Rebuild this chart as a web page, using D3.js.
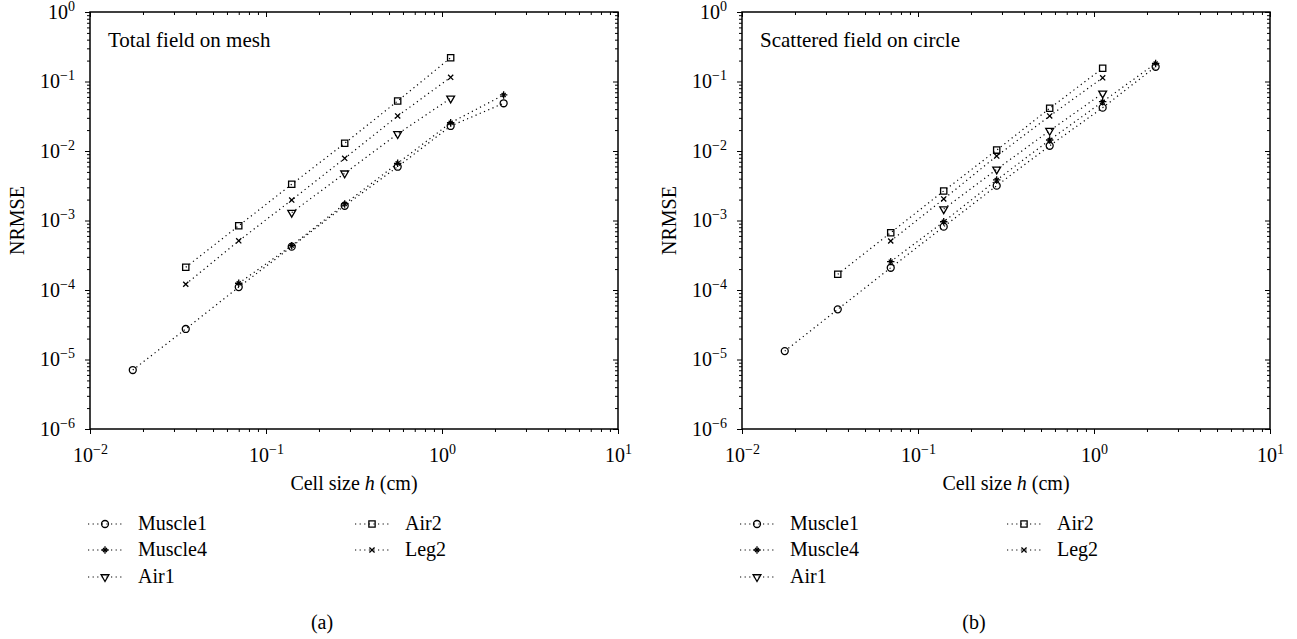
<!DOCTYPE html>
<html>
<head>
<meta charset="utf-8">
<script src="https://cdn.jsdelivr.net/npm/d3@7"></script>
<style>
  body { margin: 0; background: #fff; }
  svg { display: block; font-family: 'Liberation Serif', 'Times New Roman', serif; }
</style>
</head>
<body>
<svg id="chart" width="1297" height="639"></svg>
<script>
// cell sizes h (cm)
const hValues = [0.0175, 0.035, 0.07, 0.14, 0.28, 0.56, 1.12, 2.24];

// (a) total field on mesh
const muscle1A = [7.06e-6, 2.75e-5, 1.1e-4, 4.2e-4, 1.63e-3, 5.94e-3, 2.29e-2, 4.86e-2];
const muscle4A = [null, null, 1.25e-4, 4.35e-4, 1.73e-3, 6.65e-3, 2.55e-2, 6.4e-2];
const air1A = [null, null, null, 1.3e-3, 4.78e-3, 1.76e-2, 5.73e-2, null];
const air2A = [null, 2.12e-4, 8.4e-4, 3.32e-3, 1.29e-2, 5.24e-2, 0.22, null];
const leg2A = [null, 1.21e-4, 5.1e-4, 1.97e-3, 7.85e-3, 3.19e-2, 0.115, null];

// (b) scattered field on circle
const muscle1B = [1.32e-5, 5.27e-5, 2.09e-4, 8.15e-4, 3.17e-3, 1.19e-2, 4.2e-2, 0.163];
const muscle4B = [null, null, 2.56e-4, 9.6e-4, 3.83e-3, 1.44e-2, 5.12e-2, 0.182];
const air1B = [null, null, null, 1.46e-3, 5.45e-3, 1.96e-2, 6.76e-2, null];
const air2B = [null, 1.68e-4, 6.68e-4, 2.66e-3, 1.03e-2, 4.11e-2, 0.155, null];
const leg2B = [null, null, 5.07e-4, 2.04e-3, 8.47e-3, 3.19e-2, 0.113, null];

const seriesNames = ['Muscle1', 'Muscle4', 'Air1', 'Air2', 'Leg2'];
const xDecades = [1e-2, 1e-1, 1e0, 1e1];
const yDecades = [1e-6, 1e-5, 1e-4, 1e-3, 1e-2, 1e-1, 1e0];

const panels = [
  { left: 90, title: 'Total field on mesh', tag: '(a)', series: [muscle1A, muscle4A, air1A, air2A, leg2A] },
  { left: 742, title: 'Scattered field on circle', tag: '(b)', series: [muscle1B, muscle4B, air1B, air2B, leg2B] },
];

const plotW = 528;
const plotTop = 12;
const plotBottom = 429;

// each marker may be several stroked d3 symbols drawn on top of each other
const symbols = {
  Muscle1: [{ type: d3.symbolCircle, size: 38, rot: 0 }],
  Muscle4: [{ type: d3.symbolPlus, size: 20, rot: 0 }, { type: d3.symbolTimes, size: 12, rot: 0 }],
  Air1: [{ type: d3.symbolTriangle2, size: 44, rot: 180 }],
  Air2: [{ type: d3.symbolSquare2, size: 50, rot: 0 }],
  Leg2: [{ type: d3.symbolTimes, size: 19, rot: 0 }],
};

const svg = d3.select('#chart');

function minorTicks(decades) {
  const out = [];
  decades.slice(0, -1).forEach((d) => {
    for (let k = 2; k <= 9; k += 1) out.push(d * k);
  });
  return out;
}

function supLabel(sel) {
  sel.each(function (d) {
    const t = d3.select(this).text(null);
    t.append('tspan').text('10');
    t.append('tspan').attr('dy', -8).attr('font-size', 14)
      .text(String(Math.round(Math.log10(d))).replace('-', '\u2212'));
  });
}

function marker(g, name, x, y) {
  symbols[name].forEach((s) => {
    g.append('path')
      .attr('d', d3.symbol().type(s.type).size(s.size)())
      .attr('transform', `translate(${x},${y}) rotate(${s.rot})`)
      .attr('fill', 'none')
      .attr('stroke', '#000')
      .attr('stroke-width', 1.3);
  });
}

panels.forEach((p) => {
  const x = d3.scaleLog().domain([1e-2, 1e1]).range([p.left, p.left + plotW]);
  const y = d3.scaleLog().domain([1e-6, 1e0]).range([plotBottom, plotTop]);
  const g = svg.append('g');

  // minor ticks (bottom/left outward, top/right inward)
  g.append('g').attr('transform', `translate(0,${plotBottom})`)
    .call(d3.axisBottom(x).tickValues(minorTicks(xDecades)).tickSize(3).tickSizeOuter(0).tickFormat(''));
  g.append('g').attr('transform', `translate(0,${plotTop})`)
    .call(d3.axisBottom(x).tickValues(minorTicks(xDecades)).tickSize(3).tickSizeOuter(0).tickFormat(''));
  g.append('g').attr('transform', `translate(${p.left},0)`)
    .call(d3.axisLeft(y).tickValues(minorTicks(yDecades)).tickSize(3).tickSizeOuter(0).tickFormat(''));
  g.append('g').attr('transform', `translate(${p.left + plotW},0)`)
    .call(d3.axisLeft(y).tickValues(minorTicks(yDecades)).tickSize(3).tickSizeOuter(0).tickFormat(''));

  // major ticks + labels
  const xAxis = g.append('g').attr('transform', `translate(0,${plotBottom})`)
    .call(d3.axisBottom(x).tickValues(xDecades).tickSize(5).tickSizeOuter(0));
  xAxis.selectAll('.tick text').attr('y', 33).attr('dy', 0).attr('font-size', 20).call(supLabel);
  g.append('g').attr('transform', `translate(0,${plotTop})`)
    .call(d3.axisBottom(x).tickValues(xDecades).tickSize(5).tickSizeOuter(0).tickFormat(''));
  const yAxis = g.append('g').attr('transform', `translate(${p.left},0)`)
    .call(d3.axisLeft(y).tickValues(yDecades).tickSize(5).tickSizeOuter(0));
  yAxis.selectAll('.tick text').attr('x', -15).attr('dy', 6).attr('font-size', 20).call(supLabel);
  g.append('g').attr('transform', `translate(${p.left + plotW},0)`)
    .call(d3.axisLeft(y).tickValues(yDecades).tickSize(5).tickSizeOuter(0).tickFormat(''));

  g.selectAll('.domain').remove();
  g.selectAll('.tick line').attr('stroke', '#000');
  g.selectAll('g').attr('font-family', null).attr('font-size', null);

  g.append('rect')
    .attr('x', p.left).attr('y', plotTop)
    .attr('width', plotW).attr('height', plotBottom - plotTop)
    .attr('fill', 'none').attr('stroke', '#000').attr('stroke-width', 1.5);

  // title
  g.append('text').attr('x', p.left + 18).attr('y', 47)
    .attr('font-size', 21).text(p.title);

  // axis labels
  const xl = g.append('text').attr('x', p.left + plotW / 2).attr('y', 490)
    .attr('text-anchor', 'middle').attr('font-size', 20);
  xl.append('tspan').text('Cell size ');
  xl.append('tspan').attr('font-style', 'italic').text('h');
  xl.append('tspan').text(' (cm)');

  g.append('text')
    .attr('transform', `translate(${p.left - 66},${(plotTop + plotBottom) / 2}) rotate(-90)`)
    .attr('text-anchor', 'middle').attr('font-size', 20).text('NRMSE');

  // series
  const line = d3.line()
    .x((d) => x(d.h))
    .y((d) => y(d.v));

  p.series.forEach((vals, i) => {
    const pts = hValues.map((h, j) => ({ h, v: vals[j] })).filter((d) => d.v !== null);
    g.append('path')
      .attr('d', line(pts))
      .attr('fill', 'none')
      .attr('stroke', '#000')
      .attr('stroke-width', 1.2)
      .attr('stroke-dasharray', '1.2 3.4');
    pts.forEach((d) => marker(g, seriesNames[i], x(d.h), y(d.v)));
  });

  // legend
  const cols = [p.left - 2, p.left + 265];
  const rows = [530, 556, 583];
  seriesNames.forEach((name, i) => {
    const cx = cols[i < 3 ? 0 : 1];
    const cy = rows[i < 3 ? i : i - 3];
    g.append('line')
      .attr('x1', cx).attr('x2', cx + 35)
      .attr('y1', cy - 6).attr('y2', cy - 6)
      .attr('stroke', '#000').attr('stroke-width', 1.2)
      .attr('stroke-dasharray', '1.2 3.4');
    marker(g, name, cx + 17, cy - 6);
    g.append('text').attr('x', cx + 50).attr('y', cy)
      .attr('font-size', 20).text(name);
  });

  // panel tag
  g.append('text').attr('x', p.left + plotW / 2 - 32).attr('y', 629)
    .attr('text-anchor', 'middle').attr('font-size', 20).text(p.tag);
});
</script>
</body>
</html>
